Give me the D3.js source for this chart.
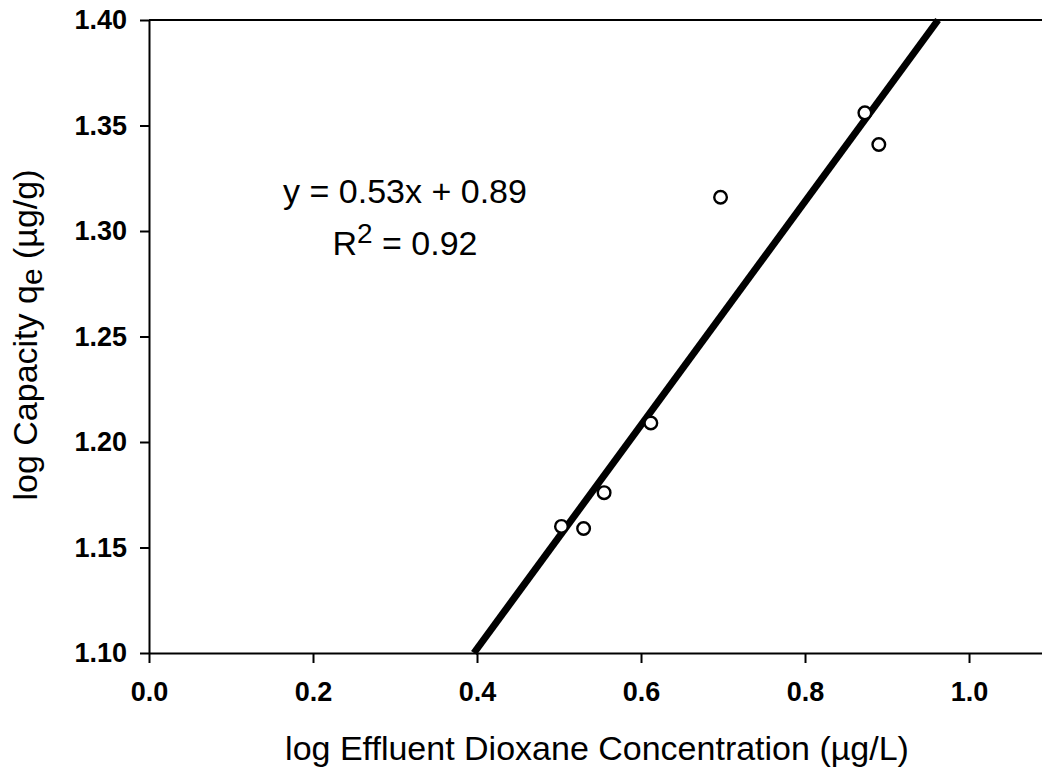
<!DOCTYPE html>
<html lang="en">
<head>
    <meta charset="UTF-8">
    <title>Dioxane isotherm</title>
    <style>
        body {
            margin: 0;
            padding: 0;
            background: #fff;
            font-family: Arial, "Liberation Sans", sans-serif;
        }

        .axis path,
        .axis line {
            stroke: #000;
            stroke-width: 2px;
        }

        .axis text {
            font-size: 27px;
            font-weight: bold;
            fill: #000;
        }

        .fit {
            fill: none;
            stroke: #000;
            stroke-width: 7px;
        }

        .dot {
            fill: #fff;
            stroke: #000;
            stroke-width: 2.4px;
        }

        .title {
            font-size: 34px;
            fill: #000;
        }
    </style>
</head>
<body>
    <div id="chart"></div>

    <script src="https://d3js.org/d3.v7.min.js"></script>
    <script>
        // measured points (log Ce, log qe)
        const logCe = [0.503, 0.530, 0.555, 0.612, 0.697, 0.873, 0.890];
        const logQe = [1.160, 1.159, 1.176, 1.209, 1.316, 1.356, 1.341];

        // fitted line y = slope * x + intercept
        const slope = 0.53;
        const intercept = 0.89;

        const xTicks = [0.0, 0.2, 0.4, 0.6, 0.8, 1.0];
        const yTicks = [1.10, 1.15, 1.20, 1.25, 1.30, 1.35, 1.40];

        const width = 1042;
        const height = 775;
        const margin = { top: 20, right: 0, bottom: 122, left: 149 };

        const svg = d3.select("#chart")
            .append("svg")
            .attr("width", width)
            .attr("height", height);

        const x = d3.scaleLinear()
            .domain([0, 1.089])
            .range([margin.left, width - margin.right]);

        const y = d3.scaleLinear()
            .domain([1.10, 1.40])
            .range([height - margin.bottom, margin.top]);

        // top frame line
        svg.append("line")
            .attr("x1", x.range()[0])
            .attr("x2", x.range()[1])
            .attr("y1", y(1.40))
            .attr("y2", y(1.40))
            .attr("stroke", "#000")
            .attr("stroke-width", 2);

        svg.append("g")
            .attr("class", "axis x-axis")
            .attr("transform", "translate(0," + y.range()[0] + ")")
            .call(d3.axisBottom(x)
                .tickValues(xTicks)
                .tickFormat(d3.format(".1f"))
                .tickSize(10)
                .tickSizeOuter(0)
                .tickPadding(19));

        svg.append("g")
            .attr("class", "axis y-axis")
            .attr("transform", "translate(" + x.range()[0] + ",0)")
            .call(d3.axisLeft(y)
                .tickValues(yTicks)
                .tickFormat(d3.format(".2f"))
                .tickSize(9)
                .tickSizeOuter(0)
                .tickPadding(13));

        // regression line, clipped to the y range
        const fitPts = y.domain().map(v => [(v - intercept) / slope, v]);

        svg.append("path")
            .datum(fitPts)
            .attr("class", "fit")
            .attr("d", d3.line()
                .x(d => x(d[0]))
                .y(d => y(d[1])));

        svg.selectAll(".dot")
            .data(d3.zip(logCe, logQe))
            .enter().append("circle")
            .attr("class", "dot")
            .attr("cx", d => x(d[0]))
            .attr("cy", d => y(d[1]))
            .attr("r", 6.3);

        // equation
        svg.append("text")
            .attr("class", "title")
            .attr("x", 405)
            .attr("y", 203)
            .attr("text-anchor", "middle")
            .text("y = 0.53x + 0.89");

        const r2 = svg.append("text")
            .attr("class", "title")
            .attr("x", 405)
            .attr("y", 255)
            .attr("text-anchor", "middle");
        r2.append("tspan").text("R");
        r2.append("tspan").attr("dy", -12).attr("font-size", 28).text("2");
        r2.append("tspan").attr("dy", 12).text(" = 0.92");

        // axis titles
        svg.append("text")
            .attr("class", "title")
            .attr("x", 597)
            .attr("y", 760)
            .attr("text-anchor", "middle")
            .text("log Effluent Dioxane Concentration (\u00b5g/L)");

        const yt = svg.append("text")
            .attr("class", "title")
            .attr("text-anchor", "middle")
            .attr("transform", "translate(37,335) rotate(-90)");
        yt.append("tspan").text("log Capacity q");
        yt.append("tspan").attr("dy", 5).attr("font-size", 30).text("e");
        yt.append("tspan").attr("dy", -5).text(" (\u00b5g/g)");
    </script>
</body>
</html>
